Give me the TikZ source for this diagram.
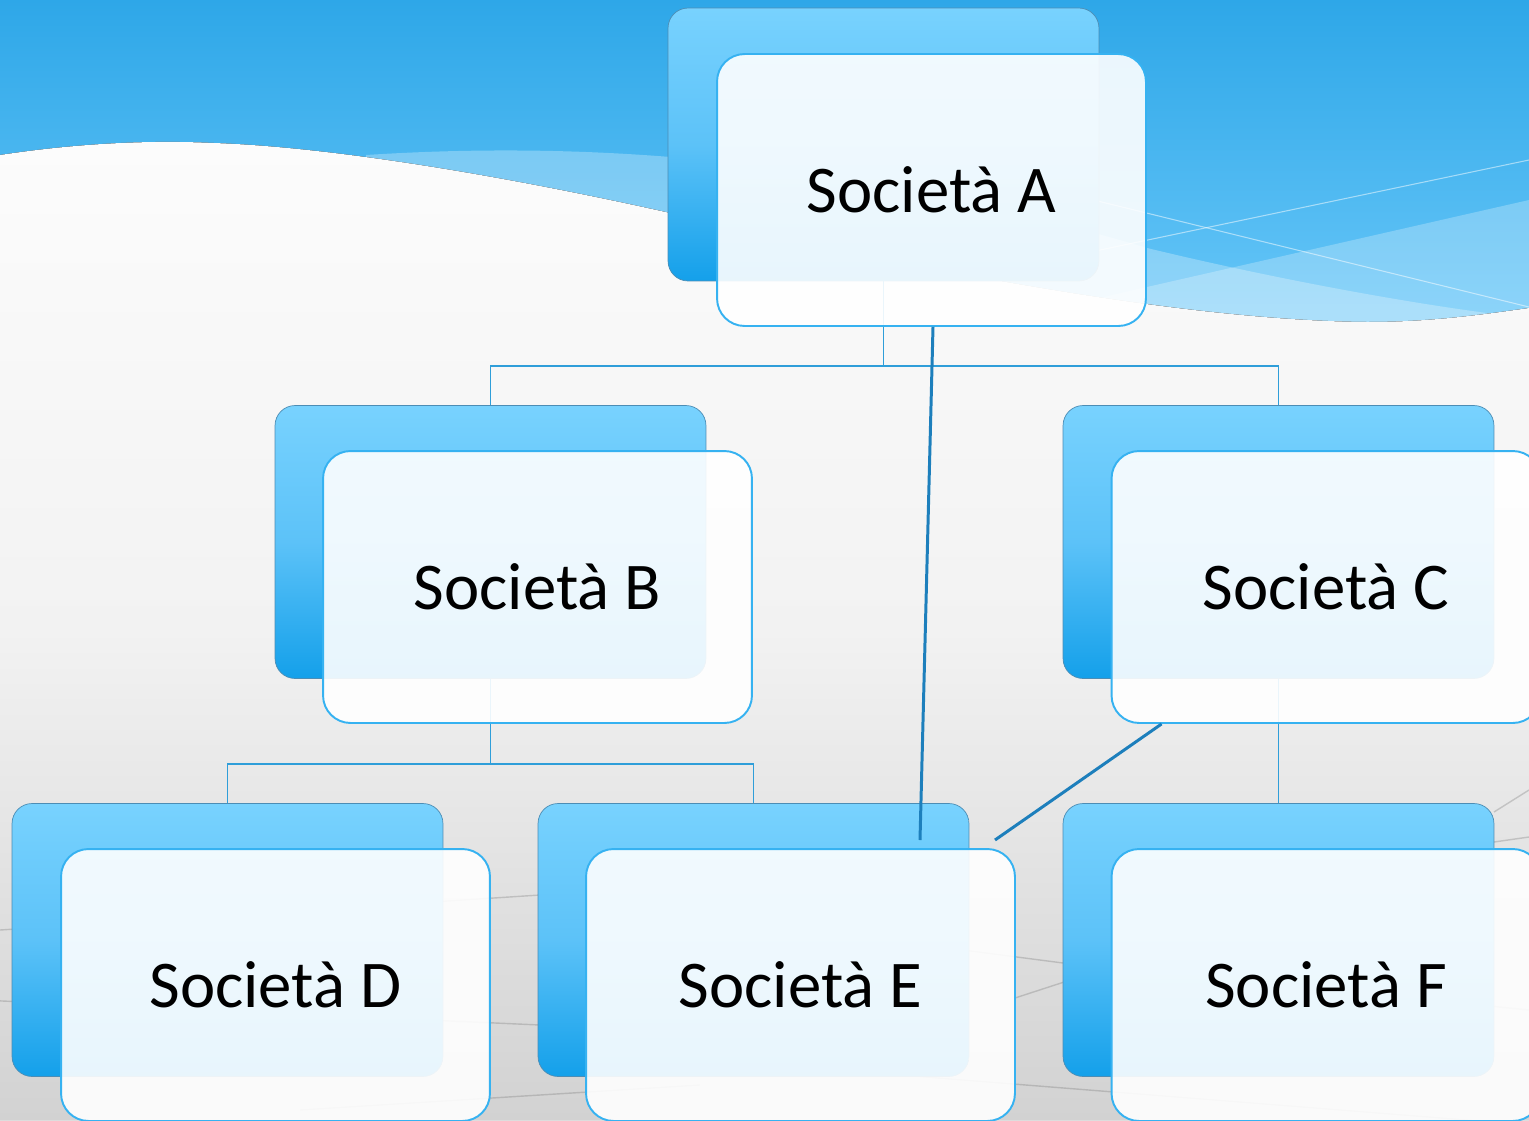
\documentclass[tikz,border=0pt]{standalone}
\usepackage{fontspec}
\setmainfont{Carlito}
\definecolor{skytop}{HTML}{2EA7E8}
\definecolor{skybot}{HTML}{6AC8F9}
\definecolor{bgtop}{HTML}{FCFCFC}
\definecolor{bgmid}{HTML}{F2F2F2}
\definecolor{bgbot}{HTML}{D2D2D2}
\definecolor{backtop}{HTML}{78D2FE}
\definecolor{backmid}{HTML}{5CC2F8}
\definecolor{backbot}{HTML}{14A0EA}
\definecolor{backline}{HTML}{4C8DB5}
\definecolor{frontline}{HTML}{36B2F1}
\definecolor{treeline}{HTML}{2F9ED9}
\definecolor{linkline}{HTML}{1D7FBC}
\begin{document}
\begin{tikzpicture}[x=0.02cm,y=-0.02cm,
  backbox/.style={rectangle,rounded corners=0.4cm,minimum width=8.62cm,
    minimum height=5.46cm,top color=backtop,bottom color=backbot,
    middle color=backmid,draw=backline,line width=0.4pt},
  frontbox/.style={rectangle,rounded corners=0.55cm,minimum width=8.58cm,
    minimum height=5.44cm,fill=white,fill opacity=0.9,text opacity=1,
    draw=frontline,line width=1.1pt,font=\fontsize{38}{45}\selectfont},
  tree/.style={draw=treeline,line width=1.1pt},
  link/.style={draw=linkline,line width=1.7pt},
  net/.style={draw=gray,line width=0.8pt,opacity=0.35}]
\useasboundingbox (0,0) rectangle (1529,1120);
\clip (0,0) rectangle (1529,1120);
 % sky:
\fill[top color=skytop,bottom color=skybot] (0,0) rectangle (1529,340);
\fill[white,opacity=0.28] (366,155) .. controls (600,140) and (850,160) .. (1147,248)
  .. controls (1300,285) and (1450,310) .. (1529,318) -- (1529,340) -- (366,340) -- cycle;
\fill[white,opacity=0.25] (1000,322) -- (1147,287) -- (1529,200) -- (1529,340) -- (1000,340) -- cycle;
\draw[white,opacity=0.5,line width=0.6pt] (1000,271) -- (1529,160);
\draw[white,opacity=0.5,line width=0.6pt] (1000,177) -- (1529,307);
 % white wave:
\fill[top color=bgtop,bottom color=bgbot,middle color=bgmid]
  (0,155) .. controls (80,143) and (150,140) .. (214,143)
  .. controls (330,147) and (500,175) .. (670,213)
  .. controls (850,253) and (1150,320) .. (1367,322)
  .. controls (1430,322) and (1480,315) .. (1529,308)
  -- (1529,1120) -- (0,1120) -- cycle;
 % faint lines in the back:
\draw[net] (0,930) -- (540,895) -- (1063,963) -- (1529,1010);
\draw[net] (-20,1000) -- (540,1025);
\draw[net] (300,1110) -- (700,1085);
\draw[net] (1015,998) -- (1494,842) -- (1529,837);
\draw[net] (900,1075) -- (1529,1125);
\draw[net] (1494,812) -- (1529,790);
 % back boxes:
\node[backbox] (bA) at (883.5,144.5) {};
\node[backbox] (bB) at (490.5,542) {};
\node[backbox] (bC) at (1278.5,542) {};
\node[backbox] (bD) at (227.5,940) {};
\node[backbox] (bE) at (753.5,940) {};
\node[backbox] (bF) at (1278.5,940) {};
 % tree lines:
\coordinate (jA) at (883.5,366);
\coordinate (jB) at (490.5,764);
\draw[tree] (bA.south) -- (jA);
\draw[tree] (bB.north) |- (jA) -| (bC.north);
\draw[tree] (bB.south) -- (jB);
\draw[tree] (bD.north) |- (jB) -| (bE.north);
\draw[tree] (bC.south) -- (bF.north);
 % front boxes:
\node[frontbox] (fA) at (931.5,190) {Società A};
\node[frontbox] (fB) at (537.5,587) {Società B};
\node[frontbox] (fC) at (1326,587) {Società C};
\node[frontbox] (fD) at (275.5,985) {Società D};
\node[frontbox] (fE) at (800.5,985) {Società E};
\node[frontbox] (fF) at (1326,985) {Società F};
 % links to E:
\coordinate (eA) at (920,840);
\coordinate (eC) at (995,840);
\draw[link] ([xshift=0.03cm]fA.south) -- (eA);
\draw[link] ([xshift=1.02cm]fC.south west) -- (eC);
\end{tikzpicture}
\end{document}
